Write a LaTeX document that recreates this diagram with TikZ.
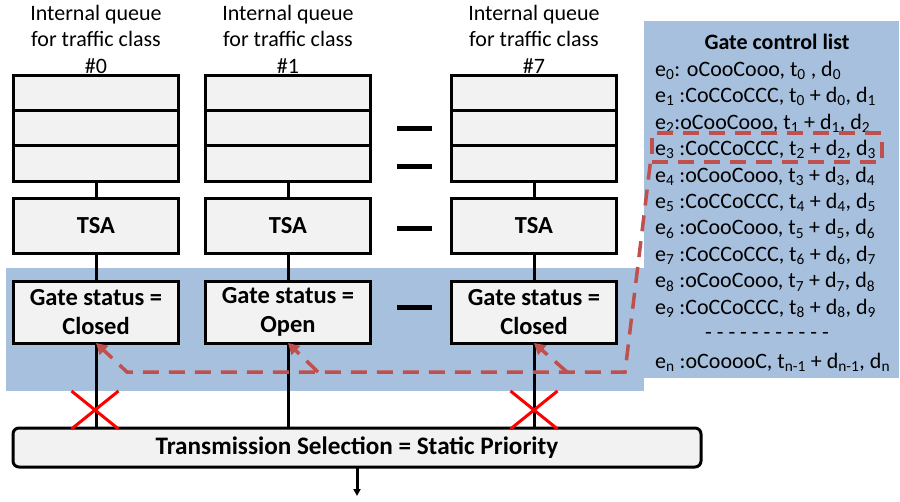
\documentclass[tikz,border=0pt]{standalone}
\usepackage{fontspec}
\setmainfont{Carlito}
\usetikzlibrary{arrows.meta,shapes.misc}
\definecolor{panelblue}{RGB}{167,192,222}
\definecolor{gclred}{RGB}{192,80,77}
\definecolor{boxfill}{RGB}{242,242,242}
\newcommand{\sbs}[1]{\textsubscript{#1}}
\begin{document}
\begin{tikzpicture}[x=1pt,y=-1pt,
  qbox/.style={draw, line width=3pt, fill=boxfill, minimum width=165, minimum height=35.3, inner sep=0, outer sep=0},
  tsabox/.style={draw, line width=3pt, fill=boxfill, minimum width=165, minimum height=55, inner sep=0, outer sep=0, font=\fontsize{24.5}{28}\selectfont\bfseries},
  gatebox/.style={draw, line width=3pt, fill=boxfill, minimum width=165, minimum height=62, inner sep=0, outer sep=0, align=center, font=\fontsize{24.5}{29}\selectfont\bfseries},
  trbox/.style={draw, line width=3pt, fill=boxfill, minimum width=688, minimum height=39, rounded corners=6pt, inner sep=0, outer sep=0, font=\fontsize{25.2}{28}\selectfont\bfseries},
  toplabel/.style={align=center, inner sep=0, font=\fontsize{22}{26.5}\selectfont},
  gcltext/.style={anchor=west, inner sep=0, font=\fontsize{22}{26}\selectfont},
  sepbar/.style={fill=black, minimum width=35, minimum height=5, inner sep=0},
  link/.style={line width=3pt},
  gclline/.style={draw=gclred, line width=3.5pt, dash pattern=on 16pt off 10pt},
  gcltip/.style={-{Triangle[length=11pt,width=12pt]}},
  xmark/.style={cross out, draw=red, line width=3pt, minimum width=44, minimum height=35, inner sep=0}
]
\useasboundingbox (0,0) rectangle (900,501);
% background panels
\fill[panelblue] (6,268) rectangle (644,391);
\fill[panelblue] (644,21) rectangle (899,378);

% top labels
\node[toplabel] (l0) at (96,39) {Internal queue\\for traffic class\\\#0};
\node[toplabel] (l1) at (288,39) {Internal queue\\for traffic class\\\#1};
\node[toplabel] (l7) at (534,39) {Internal queue\\for traffic class\\\#7};

% queues
\foreach \c/\x in {0/96,1/288,7/534}{
  \node[qbox] (q\c a) at (\x,93) {};
  \node[qbox] (q\c b) at (\x,128.5) {};
  \node[qbox] (q\c c) at (\x,163.5) {};
}
% TSA
\node[tsabox] (t0) at (96,226) {TSA};
\node[tsabox] (t1) at (288,226) {TSA};
\node[tsabox] (t7) at (534,226) {TSA};
% gates
\node[gatebox] (g0) at (96,312) {Gate status =\\Closed};
\node[gatebox] (g1) at (288,312) {Gate status =\\Open};
\node[gatebox] (g7) at (534,312) {Gate status =\\Closed};
% transmission selection
\node[trbox] (tr) at (357,447.5) {Transmission Selection = Static Priority};
\coordinate (out) at (357,496);

% separators
\node[sepbar] (s1) at (414.5,128) {};
\node[sepbar] (s2) at (414.5,166) {};
\node[sepbar] (s3) at (414.5,228) {};
\node[sepbar] (s4) at (414.5,307) {};

% connectors
\foreach \c in {0,1,7}{
  \draw[link] (q\c c.south) -- (t\c.north);
  \draw[link] (t\c.south) -- (g\c.north);
  \draw[link] (g\c.south) -- (g\c.south |- tr.north);
}
\draw[link, -{Triangle[length=7pt,width=7pt]}] (tr.south) -- (out);

% crosses
\node[xmark] (x0) at (95,410) {};
\node[xmark] (x7) at (534,410) {};

% gate control list
\node[anchor=center, inner sep=0, font=\fontsize{22}{26}\selectfont\bfseries] (gtitle) at (777,42) {Gate control list};
\node[gcltext] (e0) at (655,70) {e\sbs{0}: oCooCooo, t\sbs{0} , d\sbs{0}};
\node[gcltext] (e1) at (655,96.5) {e\sbs{1} :CoCCoCCC, t\sbs{0} + d\sbs{0}, d\sbs{1}};
\node[gcltext] (e2) at (655,123) {e\sbs{2}:oCooCooo, t\sbs{1} + d\sbs{1}, d\sbs{2}};
\node[gcltext] (e3) at (655,149.5) {e\sbs{3} :CoCCoCCC, t\sbs{2} + d\sbs{2}, d\sbs{3}};
\node[gcltext] (e4) at (655,176) {e\sbs{4} :oCooCooo, t\sbs{3} + d\sbs{3}, d\sbs{4}};
\node[gcltext] (e5) at (655,202.5) {e\sbs{5} :CoCCoCCC, t\sbs{4} + d\sbs{4}, d\sbs{5}};
\node[gcltext] (e6) at (655,229) {e\sbs{6} :oCooCooo, t\sbs{5} + d\sbs{5}, d\sbs{6}};
\node[gcltext] (e7) at (655,255.5) {e\sbs{7} :CoCCoCCC, t\sbs{6} + d\sbs{6}, d\sbs{7}};
\node[gcltext] (e8) at (655,282) {e\sbs{8} :oCooCooo, t\sbs{7} + d\sbs{7}, d\sbs{8}};
\node[gcltext] (e9) at (655,308.5) {e\sbs{9} :CoCCoCCC, t\sbs{8} + d\sbs{8}, d\sbs{9}};
\node[inner sep=0, font=\fontsize{22}{26}\selectfont] (edots) at (767,336) {- - - - - - - - - - -};
\node[gcltext] (en) at (655,362) {e\sbs{n} :oCooooC, t\sbs{n-1} + d\sbs{n-1}, d\sbs{n}};

% selected entry and red dashed path
\node[gclline, minimum width=230, minimum height=29, inner sep=0] (sel) at (767,147.5) {};
\coordinate (c1) at (625,372);
\coordinate (c0) at (127,372);
\coordinate (b1) at (318,372);
\coordinate (b7) at (567,372);
\draw[gclline, gcltip] (sel.south west) -- (c1) -- (c0) -- (g0.south);
\draw[gclline, gcltip] (b1) -- (g1.south);
\draw[gclline, gcltip] (b7) -- (g7.south);
\end{tikzpicture}
\end{document}
